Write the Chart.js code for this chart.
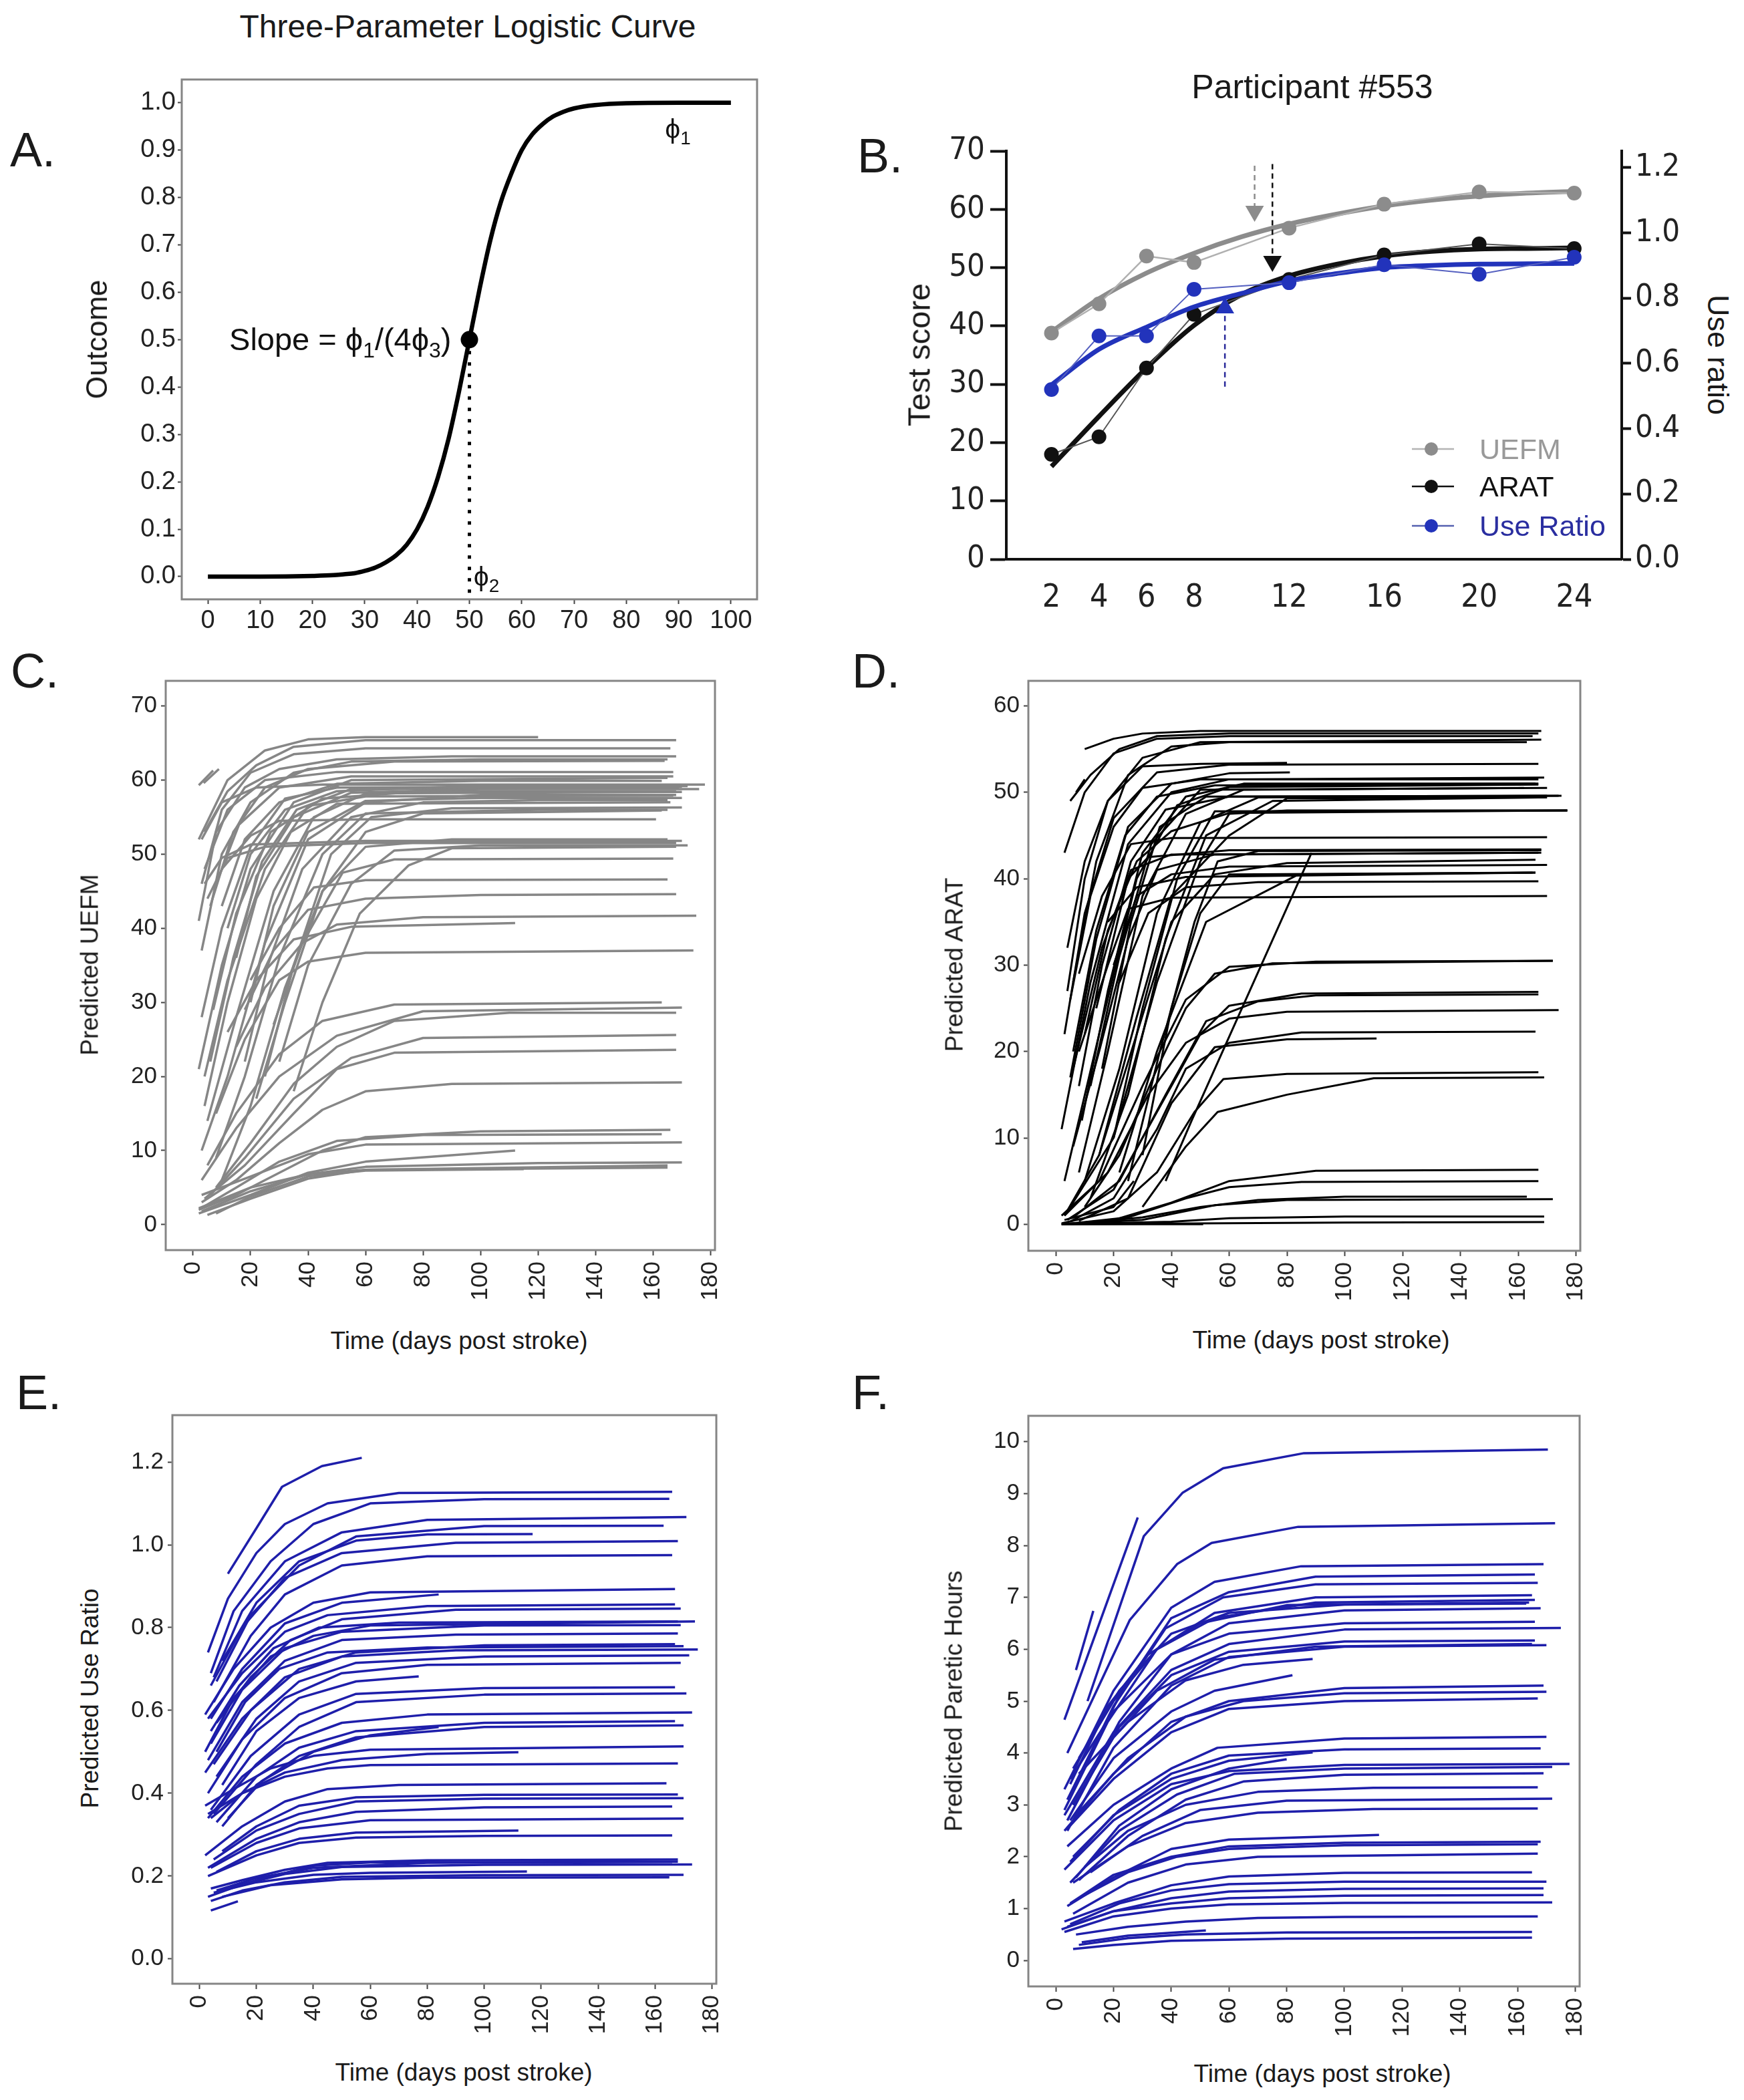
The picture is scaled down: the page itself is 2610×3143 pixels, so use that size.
<!DOCTYPE html>
<html>
<head>
<meta charset="utf-8">
<script src="https://cdn.jsdelivr.net/npm/chart.js@4.4.1/dist/chart.umd.min.js"></script>
<style>
  html, body { margin: 0; padding: 0; background: #fff; }
  #page { position: relative; width: 2610px; height: 3143px; overflow: hidden; background: #fff; }
  canvas { position: absolute; }
  .txt { position: absolute; line-height: 1; white-space: nowrap; color: #1a1a1a; }
</style>
</head>
<body>
<div id="page"></div>
<script>
const FONT = '"Liberation Sans", Arial, Helvetica, sans-serif';
const NARROW = '"Liberation Sans Narrow", "DejaVu Sans Condensed", "Liberation Sans", sans-serif';

// ---- Panel A: three-parameter logistic
const logisticX = [0, 10, 20, 24, 26, 28, 30, 32, 34, 36, 38, 40, 42, 44, 46, 48, 50, 52, 54, 56, 58, 60, 62, 64, 66, 68, 70, 74, 80, 90, 100];
const logisticY = [0, 0, 0.0014, 0.003, 0.005, 0.007, 0.012, 0.019, 0.03, 0.045, 0.067, 0.1, 0.147, 0.21, 0.29, 0.39, 0.5, 0.61, 0.71, 0.79, 0.85, 0.9, 0.933, 0.955, 0.971, 0.981, 0.988, 0.995, 0.999, 1, 1];
const inflection = { x: 50, y: 0.5 };
const aTicksX = [0, 10, 20, 30, 40, 50, 60, 70, 80, 90, 100];
const aTicksY = [0, 0.1, 0.2, 0.3, 0.4, 0.5, 0.6, 0.7, 0.8, 0.9, 1.0];

// ---- Panel B: participant #553
const seriesNames = ['UEFM', 'ARAT', 'Use Ratio'];
const bWeeks = [2, 4, 6, 8, 12, 16, 20, 24];
const uefmObs = [38.8, 43.8, 52.0, 50.9, 56.8, 60.9, 63.0, 62.8];
const aratObs = [18.0, 21.0, 32.8, 42.0, 48.0, 52.2, 54.1, 53.3];
const useRatioObs = [0.520, 0.684, 0.684, 0.827, 0.847, 0.902, 0.873, 0.925];
const fitWeeks = [2, 4, 6, 8, 10, 12, 14, 16, 18, 20, 22, 24];
const uefmFit = [39.0, 44.7, 49.1, 52.5, 55.3, 57.5, 59.2, 60.6, 61.6, 62.3, 62.8, 63.1];
const aratFit = [15.9, 24.5, 32.8, 40.1, 45.4, 48.6, 50.6, 52.0, 52.8, 53.2, 53.3, 53.4];
const useRatioFit = [0.534, 0.643, 0.711, 0.773, 0.814, 0.852, 0.875, 0.893, 0.900, 0.904, 0.905, 0.906];
const uefmArrow = { x: 10.55, from: 67.5, to: 59.7 };
const aratArrow = { x: 11.3, from: 67.8, to: 51.1 };
const useRatioArrow = { x: 9.3, from: 29.6, to: 43.1 };
const bLeftTicks = [0, 10, 20, 30, 40, 50, 60, 70];
const bRightTicks = [0, 0.2, 0.4, 0.6, 0.8, 1.0, 1.2];

// ---- Panels C-F: individual predicted trajectories, [day, value, day, value, ...]
const timeTicks = [0, 20, 40, 60, 80, 100, 120, 140, 160, 180];

const uefmLines = [
  [2,52, 12,60, 25,64, 40,65.5, 60,65.8, 120,65.8],
  [3.7,59.6, 9,61.5],
  [2,59.3, 7,61.3],
  [4,53, 12,58.5, 22,62, 35,64.5, 60,65.4, 168,65.4],
  [3,46, 10,56, 20,61, 35,63.5, 60,64.3, 166,64.3],
  [2,41, 8,53, 18,59, 30,61.5, 50,62.8, 90,63.2, 168,63.2],
  [3,37, 10,50, 20,57, 35,61, 55,62.5, 100,62.8, 165,62.8],
  [6,43, 14,53, 25,59, 40,61.5, 70,62.5, 164,62.6],
  [4,48, 12,56, 25,60, 50,61.1, 167,61.1],
  [8,46, 16,54, 30,59, 55,60.5, 167,60.5],
  [10,43, 18,52, 30,57, 50,59.5, 100,59.9, 163,59.9],
  [3,52, 10,57, 22,59, 45,59.4, 178,59.4],
  [12,40, 20,50, 32,56, 50,58.5, 90,59.1, 170,59.1],
  [15,36, 22,47, 35,55, 55,58.3, 100,58.8, 176,58.8],
  [7,29, 15,42, 27,53, 45,57.5, 80,58.5, 168,58.5],
  [20,30, 28,43, 40,53, 60,57.2, 100,57.6, 170,57.6],
  [18,22, 26,35, 38,48, 55,55, 80,57, 120,57.3, 165,57.3],
  [25,20, 35,35, 48,50, 62,55, 90,56.2, 170,56.3],
  [22,17, 32,30, 45,45, 60,53, 80,55.5, 163,55.9],
  [10,48, 20,52.5, 30,54.5, 60,54.7, 161,54.7],
  [4,46, 10,49.5, 20,51.3, 60,51.8, 170,51.8],
  [5,44, 12,49.5, 25,51, 60,51.5, 168,51.5],
  [30,22, 40,35, 55,46, 70,50.5, 100,51.2, 172,51.2],
  [35,18, 45,30, 58,42, 75,48.5, 90,50.8, 168,51.0],
  [28,27, 38,38, 52,47.5, 70,49.3, 167,49.4],
  [20,33, 30,40, 42,45.5, 60,46.5, 165,46.6],
  [18,29, 28,37, 40,42.5, 60,44, 100,44.5, 168,44.6],
  [15,24, 25,32, 38,38, 50,40.5, 80,41.5, 175,41.7],
  [12,26, 22,33, 35,38.5, 55,40.2, 112,40.7],
  [8,15, 18,25, 30,33, 40,35.5, 60,36.7, 174,37.0],
  [5,8, 15,15, 30,23, 45,27.5, 70,29.7, 163,30.0],
  [3,6, 15,13, 30,20, 50,25.5, 80,28.8, 170,29.3],
  [8,5, 20,11, 35,19, 50,24, 70,27.5, 110,28.6, 168,28.6],
  [6,4, 18,9, 35,17, 55,22.5, 80,25.2, 168,25.6],
  [4,3.5, 18,8, 35,15, 50,21, 70,23.2, 168,23.6],
  [3,3, 15,6, 30,11, 45,15.5, 60,18, 90,19, 170,19.2],
  [2,2, 15,4, 30,7, 45,10, 60,11.8, 100,12.6, 166,12.8],
  [4,2.5, 15,5, 30,8.5, 50,11.3, 80,12.1, 163,12.2],
  [3,4, 20,6.5, 40,9.5, 60,10.8, 170,11.1],
  [2,1.5, 20,4, 40,7, 60,8.5, 112,10.0],
  [3,1.8, 20,4.5, 40,6.8, 60,7.8, 120,8.3, 170,8.4],
  [5,1.3, 20,3.5, 40,6.2, 60,7.4, 165,8.0],
  [2,2.2, 20,5, 40,6.8, 60,7.4, 165,7.7],
  [8,1.5, 20,3.8, 40,6.5, 60,7.3, 115,7.5],
  [3,10, 12,20, 25,38, 40,52, 60,57, 100,58, 168,58],
  [5,14, 15,28, 28,45, 42,55, 60,58.2, 170,58.4],
  [4,20, 12,33, 25,48, 40,56.5, 60,57.8, 167,57.9],
  [10,6, 20,16, 32,32, 45,45, 60,51, 90,52, 165,52],
  [8,9, 18,20, 30,36, 45,50, 60,55.5, 120,56, 165,56],
  [2,21, 10,35, 20,48, 35,57, 55,60, 165,60.3],
  [3,28, 10,40, 20,51, 32,57.5, 50,59, 172,59.2],
  [6,22, 14,36, 24,49, 36,56, 55,58.8, 169,58.9],
  [4,16, 12,30, 22,44, 34,53, 50,56.8, 166,57]
];

const aratLines = [
  [10,55, 20,56.2, 30,56.8, 50,57.1, 168,57.1],
  [5,49, 12,52, 22,55, 35,56.5, 60,56.8, 167,56.8],
  [3,43, 10,50, 20,54.5, 35,56.2, 60,56.5, 165,56.5],
  [4,27, 10,40, 18,49, 30,54, 50,55.8, 168,56.1],
  [6,28, 14,42, 25,52, 40,55.3, 60,55.8, 163,55.8],
  [7,50, 10,51.5],
  [3,22, 10,36, 20,47, 35,52.3, 60,53.2, 167,53.3],
  [5,17, 14,33, 25,46, 40,51, 60,52.2, 81,52.3],
  [2,11, 12,28, 25,44, 40,50, 60,51.5, 169,51.7],
  [3,5, 15,22, 28,40, 42,48.5, 60,50.6, 167,50.9],
  [8,6, 18,20, 30,38, 45,47.5, 65,50.3, 162,50.5],
  [10,5, 22,18, 35,36, 50,46.5, 70,49.4, 174,49.6],
  [12,3, 25,15, 38,33, 52,45, 75,49, 167,49.4],
  [5,2, 20,10, 35,28, 50,42, 60,47.5, 80,47.9, 177,47.9],
  [8,29, 16,38, 26,44, 40,44.7, 170,44.8],
  [14,25, 25,40, 32,42.5, 60,43.3, 168,43.4],
  [6,18, 16,32, 26,41, 40,42.8, 168,43.0],
  [3,1, 15,8, 28,22, 40,35, 55,40.5, 80,41.8, 166,42.2],
  [20,30, 28,38, 40,40.5, 60,41.4, 170,41.6],
  [18,35, 28,39, 45,40.2, 166,40.7],
  [22,28, 32,36, 45,39, 70,39.6, 167,39.7],
  [8,20, 18,30, 25,36.5, 40,37.8, 170,38.0],
  [2,1, 15,5, 30,16, 45,26, 60,29.8, 90,30.4, 172,30.5],
  [10,2, 22,8, 35,18, 45,25, 55,29, 75,30.2, 172,30.5],
  [4,0.5, 20,4, 35,13, 50,22, 60,25.3, 85,26.7, 167,26.9],
  [6,0.8, 22,5, 38,15, 52,23.5, 70,25.8, 90,26.5, 167,26.6],
  [3,1, 18,6, 32,15, 45,21, 60,23.8, 80,24.6, 174,24.8],
  [5,0.3, 20,3, 35,11, 45,18, 60,21, 85,22.2, 166,22.3],
  [8,0.4, 25,3, 40,14, 55,20.5, 80,21.4, 111,21.5],
  [2,0.1, 20,1.5, 35,6, 48,13, 58,16.8, 80,17.4, 167,17.6],
  [30,2, 45,9, 56,13, 80,15, 110,16.9, 169,17.0],
  [38,5, 47,12, 88.5,43],
  [2,0, 20,0.5, 40,2.5, 60,5, 90,6.2, 167,6.3],
  [3,0, 25,0.8, 45,3, 60,4.3, 85,4.9, 167,5.0],
  [5,0, 30,0.8, 50,2, 70,2.8, 100,3.2, 163,3.2],
  [2,0, 30,0.5, 55,2.2, 80,2.8, 172,2.9],
  [2,0, 40,0.3, 60,0.7, 100,0.9, 169,0.9],
  [4,0, 50,0.1, 100,0.2, 169,0.25],
  [2,0, 51,0],
  [3,0.5, 20,2, 27,5],
  [6,9, 15,20, 25,33, 35,41, 55,42.8, 167,43.0],
  [9,12, 18,27, 30,43, 45,49.5, 65,51, 167,51],
  [12,16, 22,31, 33,44, 50,50.3, 170,50.5],
  [16,18, 26,35, 36,46, 52,49.5, 175,49.6],
  [20,10, 30,25, 42,40, 55,47.8, 177,47.9],
  [25,5, 36,20, 48,35, 56,42, 70,43.2, 168,43.3],
  [30,8, 40,25, 50,36, 60,40.5, 165,40.7],
  [15,8, 28,24, 40,38, 60,45, 80,49.3, 170,49.4],
  [22,6, 35,20, 52,35, 84,40.5, 166,40.7],
  [5,26, 12,38, 20,46, 30,50.5, 50,51.5, 167,51.5],
  [6,20, 14,34, 24,45, 35,49.5, 55,50.8, 166,51],
  [8,16, 16,30, 26,42, 38,48, 60,49.5, 170,49.6],
  [4,32, 10,42, 18,49, 30,53, 50,53.3, 80,53.4],
  [10,22, 18,34, 28,42, 40,45.5, 60,47.6, 177,47.9]
];

const useRatioLines = [
  [10,0.93, 20,1.04, 29,1.14, 43,1.19, 57,1.21],
  [3,0.74, 10,0.87, 20,0.98, 30,1.05, 45,1.1, 70,1.125, 166,1.128],
  [4,0.69, 12,0.84, 25,0.96, 40,1.05, 60,1.1, 100,1.11, 165,1.111],
  [5,0.68, 15,0.84, 30,0.96, 50,1.03, 80,1.06, 171,1.067],
  [6,0.67, 18,0.83, 35,0.95, 55,1.02, 100,1.045, 163,1.046],
  [8,0.72, 20,0.86, 35,0.96, 55,1.01, 80,1.025, 117,1.026],
  [4,0.66, 15,0.8, 30,0.92, 50,0.98, 90,1.005, 168,1.009],
  [5,0.62, 18,0.78, 30,0.88, 50,0.95, 80,0.972, 166,0.975],
  [2,0.59, 12,0.7, 25,0.8, 40,0.86, 60,0.885, 167,0.893],
  [4,0.58, 15,0.7, 30,0.81, 50,0.86, 84,0.88],
  [3,0.58, 15,0.69, 30,0.79, 45,0.83, 80,0.852, 167,0.856],
  [6,0.57, 18,0.68, 32,0.77, 50,0.82, 90,0.843, 169,0.846],
  [2,0.5, 12,0.63, 25,0.73, 40,0.78, 60,0.805, 174,0.815],
  [4,0.52, 15,0.65, 30,0.75, 50,0.79, 100,0.805, 169,0.806],
  [3,0.48, 15,0.62, 30,0.72, 50,0.77, 90,0.783, 168,0.786],
  [5,0.47, 18,0.6, 35,0.7, 55,0.74, 100,0.757, 167,0.76],
  [2,0.45, 15,0.58, 30,0.68, 50,0.73, 90,0.745, 175,0.747],
  [6,0.44, 20,0.58, 35,0.67, 55,0.715, 100,0.73, 172,0.733],
  [3,0.4, 15,0.53, 30,0.63, 50,0.69, 80,0.71, 169,0.715],
  [8,0.42, 20,0.55, 35,0.63, 55,0.67, 77,0.682],
  [4,0.36, 18,0.49, 35,0.59, 55,0.64, 100,0.654, 167,0.656],
  [5,0.35, 20,0.47, 35,0.56, 55,0.62, 100,0.638, 171,0.641],
  [3,0.34, 15,0.44, 30,0.52, 50,0.57, 80,0.59, 173,0.595],
  [6,0.33, 20,0.44, 35,0.51, 55,0.55, 100,0.57, 167,0.574],
  [8,0.32, 20,0.42, 35,0.49, 55,0.535, 100,0.56, 170,0.564],
  [10,0.34, 22,0.43, 40,0.5, 60,0.54, 84,0.56],
  [2,0.37, 12,0.41, 25,0.46, 40,0.49, 60,0.505, 170,0.513],
  [4,0.34, 15,0.4, 30,0.45, 50,0.48, 80,0.495, 112,0.499],
  [3,0.35, 15,0.4, 30,0.44, 45,0.46, 60,0.468, 168,0.472],
  [2,0.25, 15,0.32, 30,0.38, 45,0.41, 70,0.42, 164,0.424],
  [8,0.26, 20,0.32, 35,0.37, 55,0.39, 100,0.396, 168,0.397],
  [5,0.24, 20,0.31, 35,0.35, 55,0.38, 100,0.387, 170,0.388],
  [3,0.22, 20,0.29, 35,0.33, 55,0.355, 100,0.366, 166,0.368],
  [4,0.22, 20,0.28, 35,0.315, 60,0.335, 170,0.339],
  [6,0.21, 20,0.26, 35,0.29, 55,0.305, 112,0.31],
  [3,0.2, 20,0.25, 35,0.28, 55,0.293, 100,0.297, 166,0.298],
  [4,0.17, 15,0.19, 30,0.215, 45,0.232, 80,0.238, 168,0.24],
  [6,0.16, 20,0.19, 40,0.225, 60,0.233, 168,0.235],
  [3,0.15, 15,0.18, 30,0.205, 50,0.222, 100,0.227, 173,0.228],
  [5,0.16, 20,0.185, 40,0.203, 60,0.208, 115,0.211],
  [4,0.14, 15,0.165, 30,0.185, 50,0.198, 100,0.202, 170,0.203],
  [8,0.15, 25,0.178, 50,0.192, 80,0.196, 165,0.197],
  [4,0.117, 13.5,0.139],
  [6,0.165, 20,0.195, 40,0.22, 80,0.232, 166,0.234],
  [4,0.55, 14,0.66, 26,0.75, 42,0.8, 70,0.812, 168,0.815],
  [6,0.5, 16,0.62, 28,0.7, 45,0.74, 80,0.752, 170,0.755]
];

const pareticLines = [
  [11,5.0, 30.5,8.18, 44,9.02, 58,9.49, 86,9.78, 170.5,9.85],
  [3,4.64, 28.4,8.54],
  [7,5.6, 13,6.74],
  [4,4.0, 25.6,6.56, 42,7.64, 54,8.05, 84,8.36, 173,8.43],
  [3,3.3, 20,5.2, 40,6.8, 55,7.3, 85,7.6, 169,7.64],
  [5,3.2, 22,5.1, 40,6.6, 60,7.1, 90,7.4, 166,7.44],
  [4,3.1, 20,4.9, 38,6.4, 58,7.0, 90,7.25, 167,7.28],
  [6,3.7, 20,5.0, 35,6.0, 55,6.7, 90,7.0, 165,7.04],
  [3,2.9, 18,4.6, 35,6.0, 55,6.6, 90,6.9, 166,6.95],
  [8,3.9, 22,5.2, 40,6.3, 60,6.7, 100,6.86, 163,6.88],
  [4,2.7, 22,4.6, 40,5.9, 60,6.5, 100,6.75, 168,6.79],
  [5,3.5, 20,4.8, 40,5.9, 60,6.3, 100,6.5, 166,6.53],
  [3,2.8, 20,4.4, 40,5.6, 60,6.1, 100,6.38, 175,6.41],
  [6,3.0, 22,4.5, 40,5.5, 60,5.95, 100,6.15, 166,6.17],
  [4,2.5, 20,4.1, 40,5.3, 60,5.85, 100,6.05, 170,6.08],
  [8,3.6, 25,4.6, 45,5.4, 65,5.7, 89,5.81],
  [5,2.7, 20,3.9, 40,4.8, 55,5.2, 82,5.5],
  [3,2.5, 20,3.6, 40,4.6, 60,5.0, 100,5.25, 169,5.3],
  [7,2.8, 25,3.9, 45,4.7, 65,5.0, 100,5.15, 170,5.18],
  [5,2.6, 20,3.5, 40,4.4, 60,4.85, 100,5.0, 167,5.05],
  [4,2.2, 20,3.0, 40,3.7, 56,4.1, 100,4.28, 170,4.31],
  [6,2.0, 22,2.9, 40,3.6, 60,3.95, 100,4.07, 168,4.09],
  [5,1.9, 20,2.8, 40,3.5, 60,3.85, 89,4.01],
  [7,1.6, 22,2.6, 40,3.3, 60,3.7, 80,3.88],
  [3,1.75, 20,2.7, 40,3.4, 60,3.65, 100,3.77, 178,3.79],
  [5,1.5, 22,2.5, 42,3.2, 62,3.6, 100,3.7, 172,3.73],
  [8,1.55, 25,2.4, 45,3.1, 65,3.45, 100,3.58, 169,3.61],
  [10,1.8, 25,2.5, 45,3.0, 70,3.25, 110,3.33, 167,3.34],
  [12,1.7, 30,2.4, 50,2.9, 80,3.08, 172,3.12],
  [6,1.5, 25,2.2, 45,2.65, 70,2.85, 110,2.92, 167,2.93],
  [4,1.05, 20,1.6, 40,2.15, 60,2.33, 112,2.42],
  [5,1.1, 20,1.65, 40,2.0, 60,2.2, 100,2.27, 168,2.29],
  [8,1.2, 25,1.7, 42,2.0, 60,2.15, 100,2.22, 167,2.24],
  [6,0.9, 25,1.5, 45,1.85, 70,2.0, 167,2.06],
  [3,0.75, 20,1.1, 40,1.45, 60,1.62, 100,1.69, 165,1.7],
  [5,0.7, 22,1.1, 40,1.35, 60,1.47, 100,1.52, 170,1.52],
  [2,0.6, 20,0.95, 40,1.2, 60,1.33, 100,1.38, 169,1.39],
  [4,0.65, 20,0.95, 40,1.1, 60,1.2, 100,1.25, 169,1.26],
  [3,0.55, 20,0.85, 40,1.0, 60,1.08, 100,1.11, 172,1.12],
  [7,0.5, 25,0.65, 45,0.75, 70,0.82, 100,0.84, 167,0.85],
  [8,0.3, 25,0.43, 45,0.5, 80,0.54, 165,0.55],
  [6,0.22, 20,0.3, 40,0.38, 80,0.42, 165,0.44],
  [9,0.35, 25,0.48, 52,0.58],
  [5,3.4, 18,4.9, 32,5.9, 50,6.5, 80,6.85, 164,6.9],
  [6,3.0, 20,4.3, 35,5.2, 55,5.8, 90,6.05, 165,6.1]
];

const uefmTicks = [0, 10, 20, 30, 40, 50, 60, 70];
const aratTicks = [0, 10, 20, 30, 40, 50, 60];
const useRatioTicks = [0, 0.2, 0.4, 0.6, 0.8, 1.0, 1.2];
const pareticTicks = [0, 1, 2, 3, 4, 5, 6, 7, 8, 9, 10];

// ---------------------------------------------------------------------------
Chart.defaults.font.family = FONT;
const page = document.getElementById('page');

function addText(text, x, y, size, opts = {}) {
  const d = document.createElement('div');
  d.className = 'txt';
  d.textContent = text;
  const rot = opts.rot || 0;
  const tx = opts.left ? '0' : '-50%';
  d.style.left = x + 'px';
  d.style.top = y + 'px';
  d.style.fontSize = size + 'px';
  d.style.fontFamily = opts.family || FONT;
  if (opts.color) d.style.color = opts.color;
  d.style.transform = `translate(${tx}, -50%) rotate(${rot}deg)`;
  page.appendChild(d);
}

// canvas sized so the chart area lands exactly on the plot box
function makeCanvas(box, pad) {
  const c = document.createElement('canvas');
  const w = box.r - box.l + pad.l + pad.r;
  const h = box.b - box.t + pad.t + pad.b;
  c.width = w; c.height = h;
  c.style.left = (box.l - pad.l) + 'px';
  c.style.top = (box.t - pad.t) + 'px';
  c.style.width = w + 'px'; c.style.height = h + 'px';
  page.appendChild(c);
  return c;
}

const toPoints = (xs, ys) => xs.map((x, i) => ({ x, y: ys[i] }));
const setTicks = arr => scale => { scale.ticks = arr.map(v => ({ value: v })); };

const framePlugin = {
  id: 'frame',
  afterDatasetsDraw(chart) {
    const { ctx, chartArea: a } = chart;
    ctx.save();
    ctx.strokeStyle = '#858585';
    ctx.lineWidth = 3;
    ctx.strokeRect(a.left, a.top, a.right - a.left, a.bottom - a.top);
    ctx.restore();
  }
};

function drawRich(ctx, parts, x, y, size, align) {
  let w = 0;
  parts.forEach(([t, sub]) => {
    ctx.font = `${sub ? size * 0.68 : size}px ${FONT}`;
    w += ctx.measureText(t).width;
  });
  let cx = align === 'right' ? x - w : x;
  ctx.textAlign = 'left';
  ctx.textBaseline = 'alphabetic';
  parts.forEach(([t, sub]) => {
    ctx.font = `${sub ? size * 0.68 : size}px ${FONT}`;
    ctx.fillText(t, cx, sub ? y + size * 0.22 : y);
    cx += ctx.measureText(t).width;
  });
}

const baseOptions = (pad) => ({
  responsive: false,
  animation: false,
  devicePixelRatio: 1,
  events: [],
  layout: { padding: { left: 0, top: pad.t, right: pad.r, bottom: 0 } },
  plugins: { legend: { display: false }, tooltip: { enabled: false } }
});

// ---------------- Panel A
(function () {
  const box = { l: 272, t: 119, r: 1133, b: 897 };
  const pad = { l: 122, r: 60, t: 30, b: 60 };
  const canvas = makeCanvas(box, pad);

  const aText = {
    id: 'aText',
    afterDatasetsDraw(chart) {
      const { ctx, scales: { x, y } } = chart;
      ctx.save();
      ctx.fillStyle = '#111';
      const px = x.getPixelForValue(inflection.x);
      const py = y.getPixelForValue(inflection.y);
      drawRich(ctx, [['Slope = ϕ', 0], ['1', 1], ['/(4ϕ', 0], ['3', 1], [')', 0]], px - 27, py + 16, 47, 'right');
      drawRich(ctx, [['ϕ', 0], ['1', 1]], x.getPixelForValue(87.4), y.getPixelForValue(0.945) + 14, 41, 'left');
      drawRich(ctx, [['ϕ', 0], ['2', 1]], x.getPixelForValue(50.8), y.getPixelForValue(0) + 14, 41, 'left');
      ctx.restore();
    }
  };

  new Chart(canvas, {
    type: 'line',
    data: {
      datasets: [
        { data: [inflection], pointRadius: 13, pointBackgroundColor: '#000', pointBorderWidth: 0, showLine: false },
        { data: [inflection, { x: inflection.x, y: -0.2 }], borderColor: '#000', borderWidth: 5, borderDash: [5, 12], pointRadius: 0 },
        { data: toPoints(logisticX, logisticY), borderColor: '#000', borderWidth: 6.5, pointRadius: 0, cubicInterpolationMode: 'monotone' }
      ]
    },
    options: Object.assign(baseOptions(pad), {
      scales: {
        x: {
          type: 'linear', min: -5, max: 105,
          afterBuildTicks: setTicks(aTicksX),
          afterFit: s => { s.height = pad.b; },
          grid: { drawOnChartArea: false, tickLength: 7, tickColor: '#444', tickWidth: 2 },
          border: { display: false },
          ticks: { font: { size: 38 }, color: '#222', padding: 3, minRotation: 0, maxRotation: 0, autoSkip: false }
        },
        y: {
          type: 'linear', min: -0.048, max: 1.049,
          afterBuildTicks: setTicks(aTicksY),
          afterFit: s => { s.width = pad.l; },
          grid: { drawOnChartArea: false, tickLength: 6, tickColor: '#444', tickWidth: 2 },
          border: { display: false },
          ticks: { font: { size: 38 }, color: '#222', padding: 3, callback: v => v.toFixed(1) }
        }
      }
    }),
    plugins: [framePlugin, aText]
  });

  addText('Three-Parameter Logistic Curve', 700, 40, 48);
  addText('Outcome', 145, 508, 44, { rot: -90 });
  addText('A.', 15, 224, 72, { left: true });
})();

// ---------------- Panel B
(function () {
  const box = { l: 1506, t: 220, r: 2427, b: 837 };
  const pad = { l: 110, r: 110, t: 30, b: 80 };
  const canvas = makeCanvas(box, pad);
  const ox = box.l - pad.l, oy = box.t - pad.t;
  const gray = '#8c8c8c', black = '#111', blue = '#2233bb';

  const legend = {
    id: 'bLegend',
    afterDatasetsDraw(chart) {
      const ctx = chart.ctx;
      const rows = [
        { name: seriesNames[0], y: 672, line: '#b4b4b4', dot: gray, text: '#999' },
        { name: seriesNames[1], y: 728, line: black, dot: black, text: black },
        { name: seriesNames[2], y: 787, line: '#5560b0', dot: blue, text: '#2a2ea0' }
      ];
      ctx.save();
      rows.forEach(r => {
        const yy = r.y - oy;
        ctx.strokeStyle = r.line; ctx.lineWidth = 2.5;
        ctx.beginPath(); ctx.moveTo(2113 - ox, yy); ctx.lineTo(2176 - ox, yy); ctx.stroke();
        ctx.fillStyle = r.dot;
        ctx.beginPath(); ctx.arc(2142 - ox, yy, 10, 0, Math.PI * 2); ctx.fill();
        ctx.fillStyle = r.text;
        ctx.font = `43px ${FONT}`;
        ctx.textAlign = 'left'; ctx.textBaseline = 'alphabetic';
        ctx.fillText(r.name, 2214 - ox, yy + 15);
      });
      ctx.restore();
    }
  };

  const arrowLine = (a, color) => ({
    data: [{ x: a.x, y: a.from }, { x: a.x, y: a.to }], yAxisID: 'y',
    borderColor: color, borderWidth: 2.5, borderDash: [8, 6], pointRadius: 0
  });
  const arrowHead = (a, color, rotation) => ({
    data: [{ x: a.x, y: a.to }], yAxisID: 'y', showLine: false,
    pointStyle: 'triangle', rotation, pointRadius: 16, pointBackgroundColor: color, pointBorderWidth: 0
  });

  new Chart(canvas, {
    type: 'line',
    data: {
      datasets: [
        arrowHead(useRatioArrow, blue, 0),
        arrowHead(aratArrow, black, 180),
        arrowHead(uefmArrow, gray, 180),
        arrowLine(useRatioArrow, '#2a2a9a'),
        arrowLine(aratArrow, black),
        arrowLine(uefmArrow, gray),
        { data: toPoints(bWeeks, useRatioObs), yAxisID: 'y1', borderColor: '#5560c0', borderWidth: 2, pointRadius: 11, pointBackgroundColor: blue, pointBorderWidth: 0 },
        { data: toPoints(fitWeeks, useRatioFit), yAxisID: 'y1', borderColor: blue, borderWidth: 7, pointRadius: 0, cubicInterpolationMode: 'monotone' },
        { data: toPoints(bWeeks, aratObs), yAxisID: 'y', borderColor: '#555', borderWidth: 2, pointRadius: 11, pointBackgroundColor: black, pointBorderWidth: 0 },
        { data: toPoints(fitWeeks, aratFit), yAxisID: 'y', borderColor: black, borderWidth: 7, pointRadius: 0, cubicInterpolationMode: 'monotone' },
        { data: toPoints(bWeeks, uefmObs), yAxisID: 'y', borderColor: '#b0b0b0', borderWidth: 2.5, pointRadius: 11, pointBackgroundColor: gray, pointBorderWidth: 0 },
        { data: toPoints(fitWeeks, uefmFit), yAxisID: 'y', borderColor: gray, borderWidth: 7, pointRadius: 0, cubicInterpolationMode: 'monotone' }
      ]
    },
    options: Object.assign(baseOptions({ t: pad.t, r: 0 }), {
      scales: {
        x: {
          type: 'linear', min: 0.1, max: 26,
          afterBuildTicks: setTicks(bWeeks),
          afterFit: s => { s.height = pad.b; },
          grid: { display: false, drawTicks: false },
          border: { display: true, color: black, width: 4 },
          ticks: { font: { size: 48, family: NARROW }, color: '#222', padding: 30, minRotation: 0, maxRotation: 0, autoSkip: false }
        },
        y: {
          type: 'linear', position: 'left', min: 0, max: 70,
          afterBuildTicks: setTicks(bLeftTicks),
          afterFit: s => { s.width = pad.l; },
          grid: { drawOnChartArea: false, tickLength: 24, tickColor: black, tickWidth: 4 },
          border: { display: true, color: black, width: 4 },
          ticks: { font: { size: 47, family: NARROW }, color: '#222', padding: 8 }
        },
        y1: {
          type: 'linear', position: 'right', min: 0, max: 1.25,
          afterBuildTicks: setTicks(bRightTicks),
          afterFit: s => { s.width = pad.r; },
          grid: { drawOnChartArea: false, tickLength: 14, tickColor: black, tickWidth: 4 },
          border: { display: true, color: black, width: 4 },
          ticks: { font: { size: 47, family: NARROW }, color: '#222', padding: 6, callback: v => v.toFixed(1) }
        }
      }
    }),
    plugins: [legend]
  });

  addText('Participant #553', 1964, 130, 50);
  addText('Test score', 1375, 531, 47, { rot: -90 });
  addText('Use ratio', 2571, 531, 45, { rot: 90 });
  addText('B.', 1283, 233, 72, { left: true });
})();

// ---------------- Panels C-F
function spaghetti(box, lines, color, width, yMin, yMax, yTicks, fmt) {
  const pad = { l: 100, r: 50, t: 24, b: 90 };
  const canvas = makeCanvas(box, pad);
  const datasets = lines.map(a => {
    const pts = [];
    for (let i = 0; i < a.length; i += 2) pts.push({ x: a[i], y: a[i + 1] });
    return { data: pts, borderColor: color, borderWidth: width, pointRadius: 0, tension: 0, borderJoinStyle: 'round' };
  });
  new Chart(canvas, {
    type: 'line',
    data: { datasets },
    options: Object.assign(baseOptions(pad), {
      scales: {
        x: {
          type: 'linear', min: -9.5, max: 181.5,
          afterBuildTicks: setTicks(timeTicks),
          afterFit: s => { s.height = pad.b; },
          grid: { drawOnChartArea: false, tickLength: 8, tickColor: '#444', tickWidth: 2 },
          border: { display: false },
          ticks: { font: { size: 35 }, color: '#222', padding: 9, minRotation: 90, maxRotation: 90, autoSkip: false }
        },
        y: {
          type: 'linear', min: yMin, max: yMax,
          afterBuildTicks: setTicks(yTicks),
          afterFit: s => { s.width = pad.l; },
          grid: { drawOnChartArea: false, tickLength: 7, tickColor: '#444', tickWidth: 2 },
          border: { display: false },
          ticks: { font: { size: 35 }, color: '#222', padding: 6, callback: fmt }
        }
      }
    }),
    plugins: [framePlugin]
  });
}

const intFmt = v => String(v);
spaghetti({ l: 248, t: 1016, r: 1070, b: 1871 }, uefmLines, '#868686', 3.5, -3.44, 73.4, uefmTicks, intFmt);
spaghetti({ l: 1539, t: 1016, r: 2365, b: 1872 }, aratLines, '#000', 3, -3.07, 62.9, aratTicks, intFmt);
spaghetti({ l: 258, t: 2115, r: 1072, b: 2969 }, useRatioLines, '#1e1eaa', 3.5, -0.06, 1.313, useRatioTicks, v => v.toFixed(1));
spaghetti({ l: 1539, t: 2116, r: 2364, b: 2973 }, pareticLines, '#1e1eaa', 3.5, -0.5, 10.5, pareticTicks, intFmt);

addText('C.', 16, 1004, 72, { left: true });
addText('D.', 1275, 1004, 72, { left: true });
addText('E.', 24, 2084, 72, { left: true });
addText('F.', 1275, 2084, 72, { left: true });

addText('Predicted UEFM', 134, 1444, 37, { rot: -90 });
addText('Predicted ARAT', 1428, 1444, 37, { rot: -90 });
addText('Predicted Use Ratio', 134, 2542, 37, { rot: -90 });
addText('Predicted Paretic Hours', 1427, 2546, 37, { rot: -90 });

addText('Time (days post stroke)', 687, 2006, 37);
addText('Time (days post stroke)', 1977, 2005, 37);
addText('Time (days post stroke)', 694, 3101, 37);
addText('Time (days post stroke)', 1979, 3103, 37);
</script>
</body>
</html>
